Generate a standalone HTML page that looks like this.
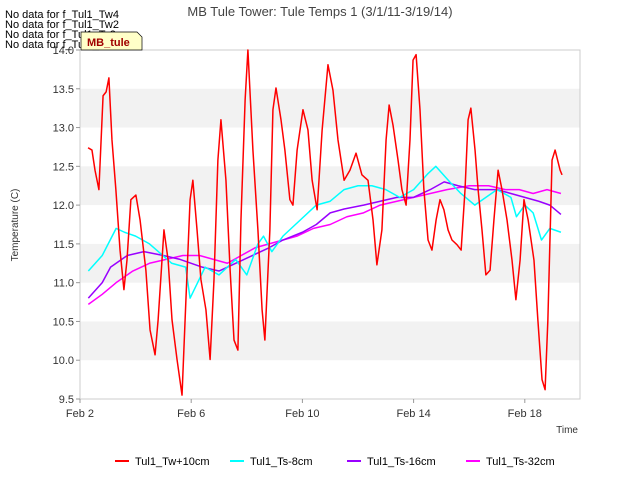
<!DOCTYPE html>
<html><head><meta charset="utf-8"><style>
body{margin:0;background:#fff;font-family:"Liberation Sans",sans-serif}
svg text{font-family:"Liberation Sans",sans-serif}
</style></head><body>
<svg width="640" height="480" id="c">
<rect width="640" height="480" fill="#fff"/>
<g id="plot"></g>
<text x="320" y="16" text-anchor="middle" font-size="13" fill="#444">MB Tule Tower: Tule Temps 1 (3/1/11-3/19/14)</text>
<text x="18" y="225" text-anchor="middle" font-size="10" fill="#333" transform="rotate(-90 18 225)">Temperature (C)</text>
<text x="578" y="433" text-anchor="end" font-size="10" fill="#333">Time</text>
<g font-size="11" fill="#000">
<text x="5" y="18">No data for f_Tul1_Tw4</text>
<text x="5" y="28">No data for f_Tul1_Tw2</text>
<text x="5" y="38">No data for f_Tul1_Ts2</text>
<text x="5" y="48">No data for f_Tul1_Ts4</text>
</g>
<g>
<path d="M81 32 H137 L142 37 V50 H81 Z" fill="#ffffc8" stroke="#000" stroke-width="0.7"/>
<text x="87" y="46" font-size="11" font-weight="bold" fill="#a00000">MB_tule</text>
</g>
<g id="legend"></g>
</svg>
<script>
const tw_t=[0.29,0.43,0.54,0.68,0.83,0.94,1.04,1.15,1.29,1.44,1.58,1.69,1.83,2.01,2.16,2.37,2.52,2.70,2.81,3.02,3.17,3.31,3.49,3.67,3.81,3.96,4.06,4.21,4.35,4.53,4.68,4.82,4.96,5.07,5.25,5.40,5.54,5.68,5.79,5.94,6.04,6.22,6.40,6.55,6.65,6.83,6.94,7.05,7.23,7.37,7.55,7.66,7.81,8.02,8.20,8.35,8.53,8.71,8.92,9.10,9.28,9.50,9.71,9.93,10.14,10.36,10.54,10.68,10.86,11.01,11.12,11.26,11.44,11.58,11.73,11.87,11.98,12.09,12.23,12.37,12.52,12.66,12.81,12.95,13.09,13.24,13.38,13.56,13.71,13.85,13.96,14.06,14.21,14.32,14.46,14.60,14.75,14.89,15.04,15.18,15.36,15.54,15.68,15.83,15.97,16.12,16.33,16.47,16.62,16.73,16.83,16.98,17.09,17.27,17.34];
const tw_v=[12.74,12.71,12.45,12.20,13.41,13.46,13.64,12.84,12.20,11.42,10.91,11.29,12.07,12.13,11.81,11.16,10.39,10.07,10.52,11.68,11.29,10.52,10.01,9.55,10.78,12.07,12.32,11.68,11.04,10.65,10.01,11.04,12.58,13.10,12.32,11.16,10.26,10.13,11.81,13.36,14.0,12.71,11.68,10.65,10.26,11.68,13.23,13.51,13.10,12.71,12.07,12.0,12.71,13.23,12.97,12.32,11.94,12.97,13.81,13.48,12.84,12.32,12.45,12.67,12.39,12.32,11.81,11.23,11.68,12.84,13.29,13.03,12.58,12.20,12.0,12.84,13.87,13.94,13.23,12.20,11.55,11.42,11.81,12.07,11.94,11.68,11.55,11.49,11.42,12.20,13.10,13.25,12.71,12.20,11.68,11.10,11.16,11.81,12.45,12.20,11.81,11.29,10.78,11.29,12.07,11.81,11.29,10.52,9.75,9.62,10.52,12.58,12.71,12.45,12.39];
const ts8_t=[0.3,0.8,1.3,1.6,2,2.5,3.3,3.8,3.96,4.5,5,5.6,6.0,6.4,6.6,6.9,7.3,7.9,8.5,9,9.5,10,10.5,11,11.5,12,12.5,12.8,13.3,13.7,14.2,14.6,15,15.5,15.7,16,16.3,16.6,16.9,17.3];
const ts8_v=[11.15,11.35,11.7,11.65,11.6,11.5,11.25,11.2,10.8,11.2,11.1,11.3,11.1,11.5,11.6,11.4,11.6,11.8,12.0,12.05,12.2,12.25,12.25,12.2,12.1,12.2,12.4,12.5,12.3,12.15,12.0,12.1,12.2,12.1,11.85,12.0,11.9,11.55,11.7,11.65];
const ts16_t=[0.3,0.8,1.1,1.7,2.3,3,3.6,4,4.4,5.0,5.6,6.2,6.8,7.3,8,8.5,9,9.5,10.2,10.8,11.4,12,12.6,13.1,13.6,14.2,15,15.5,16,16.5,16.9,17.3];
const ts16_v=[10.8,11.0,11.2,11.35,11.4,11.35,11.3,11.25,11.2,11.15,11.25,11.35,11.45,11.55,11.65,11.75,11.9,11.95,12.0,12.05,12.1,12.1,12.2,12.3,12.25,12.2,12.2,12.15,12.1,12.05,12.0,11.88];
const ts32_t=[0.3,0.8,1.3,1.9,2.5,3.1,3.7,4.3,4.8,5.3,5.8,6.3,6.8,7.3,7.8,8.4,9,9.6,10.2,10.8,11.4,12,12.6,13.2,14,14.7,15.3,15.8,16.3,16.8,17.3];
const ts32_v=[10.72,10.85,11.0,11.15,11.25,11.3,11.35,11.35,11.3,11.25,11.35,11.45,11.5,11.55,11.6,11.7,11.75,11.85,11.9,12.0,12.05,12.1,12.15,12.2,12.25,12.25,12.2,12.2,12.15,12.2,12.15];
const yTicks=[9.5,10.0,10.5,11.0,11.5,12.0,12.5,13.0,13.5,14.0];
const xTickDays=[0,4,8,12,16];
const xTickLabels=["Feb 2","Feb 6","Feb 10","Feb 14","Feb 18"];
const seriesNames=["Tul1_Tw+10cm","Tul1_Ts-8cm","Tul1_Ts-16cm","Tul1_Ts-32cm"];
const seriesColors=["#ff0000","#00ffff","#9900ff","#ff00ff"];

const L=80,R=580,T=50,B=399;
const X=t=>L+t*27.8;
const Y=v=>B-(v-9.5)/4.5*(B-T);
const NS="http://www.w3.org/2000/svg";
const g=document.getElementById('plot');
function mk(tag,a,p){const e=document.createElementNS(NS,tag);for(const k in a)e.setAttribute(k,a[k]);(p||g).appendChild(e);return e;}
for(let v=10;v<14;v+=1){const r=mk('rect',{x:L,y:Y(v+0.5),width:R-L,height:Y(v)-Y(v+0.5),fill:'#f2f2f2'});

}
const fr=mk('rect',{x:L,y:T,width:R-L,height:B-T,fill:'none',stroke:'#ccc'});


yTicks.forEach(v=>{mk('line',{x1:L-4,x2:L,y1:Y(v),y2:Y(v),stroke:'#999'});
const t=mk('text',{x:L-6,y:Y(v)+4,'text-anchor':'end','font-size':11,fill:'#333'});t.textContent=v.toFixed(1);

});
xTickDays.forEach((d,i)=>{mk('line',{x1:X(d),x2:X(d),y1:B,y2:B+4,stroke:'#999'});
const t=mk('text',{x:X(d),y:B+18,'text-anchor':'middle','font-size':11,fill:'#333'});t.textContent=xTickLabels[i];

});
const data=[[tw_t,tw_v],[ts8_t,ts8_v],[ts16_t,ts16_v],[ts32_t,ts32_v]];
[3,2,1,0].forEach(i=>{const [ts,vs]=data[i];
const p=mk('polyline',{points:ts.map((t,j)=>X(t)+','+Y(vs[j])).join(' '),fill:'none',stroke:seriesColors[i],'stroke-width':1.5,'stroke-linejoin':'round'});

});
const lg=document.getElementById('legend');
const lx=[115,230,347,466];
seriesNames.forEach((n,i)=>{const gg=mk('g',{},lg);


mk('line',{x1:lx[i],x2:lx[i]+14,y1:461,y2:461,stroke:seriesColors[i],'stroke-width':2},gg);
const t=mk('text',{x:lx[i]+20,y:465,'font-size':11,fill:'#000'},gg);t.textContent=n;});
</script>
</body></html>
